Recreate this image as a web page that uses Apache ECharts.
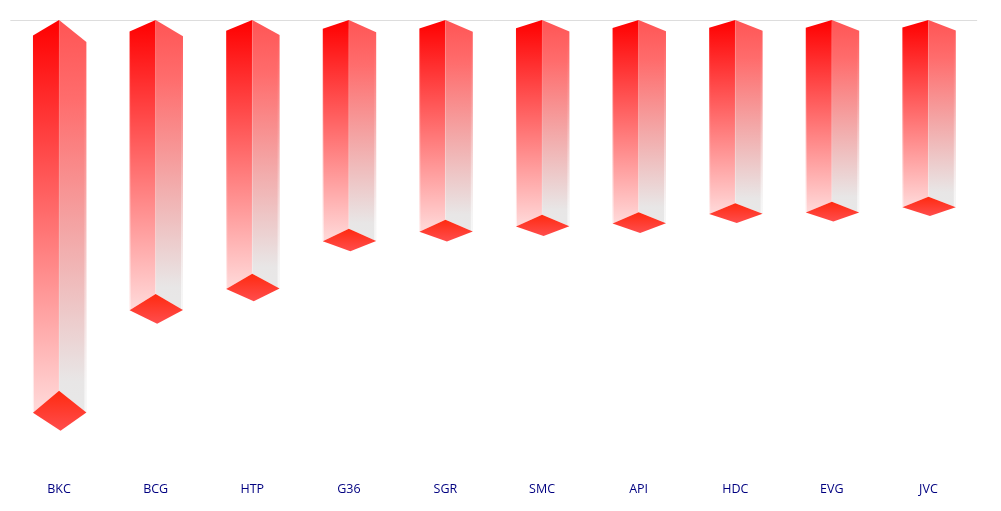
<!DOCTYPE html>
<html><head><meta charset="utf-8">
<style>html,body{margin:0;padding:0;background:#fff}#c{width:1001px;height:511px}</style>
<script src="https://cdn.jsdelivr.net/npm/echarts@6/dist/echarts.min.js"></script>
</head><body><div id="c"></div>
<script>
const categories = ['BKC','BCG','HTP','G36','SGR','SMC','API','HDC','EVG','JVC'];
const values = [82.4,60.9,56.4,46.4,44.4,43.3,42.7,40.7,40.4,39.3];

const chart = echarts.init(document.getElementById('c'), null, {renderer:'canvas'});
const grad = stops => ({type:'linear',x:0,y:0,x2:0,y2:1,colorStops:stops.map(s=>({offset:s[0],color:s[1]}))});
const leftFill = grad([[0,'#ff0000'],[1,'#ffdada']]);
const rightFill = grad([[0,'#ff5555'],[0.2,'#ff6c6c'],[0.55,'#f3a8a8'],[0.92,'#e8e6e6'],[1,'#e8e8e8']]);
const capFill = grad([[0,'#ff2a10'],[1,'#ff4d4d']]);
const edgeFill = grad([[0,'rgba(255,255,255,0)'],[0.4,'rgba(255,255,255,0.15)'],[1,'rgba(255,255,255,0.65)']]);
const seamFill = grad([[0,'rgba(255,255,255,0.05)'],[1,'rgba(255,255,255,0.18)']]);

function renderColumn(params, api){
  const idx = api.value(0);
  const top = api.coord([idx,0]);
  const end = api.coord([idx,api.value(1)]);
  const band = api.size([1,0])[0];
  const h = end[1]-top[1];
  const cx = top[0], wl = band*0.27, wr = band*0.283;
  const d = h*0.108;
  const lx = cx-wl, rx = cx+wr;
  const lt = top[1]+h*0.042, rt = top[1]+h*0.059;
  const poly = (pts,fill)=>({type:'polygon',shape:{points:pts},style:{fill}});
  return {type:'group',children:[
    poly([[cx,top[1]],[lx,lt],[lx,end[1]+d*0.55],[cx,end[1]]],leftFill),
    poly([[cx,top[1]],[rx,rt],[rx,end[1]+d*0.54],[cx,end[1]]],rightFill),
    poly([[rx-2,rt],[rx,rt+1],[rx,end[1]+d*0.54],[rx-2,end[1]+d*0.5]],edgeFill),
    poly([[lx,lt],[lx+1,lt],[lx+1,end[1]+d*0.53],[lx,end[1]+d*0.55]],edgeFill),
    poly([[cx-0.5,top[1]+2],[cx+0.5,top[1]+2],[cx+0.5,end[1]],[cx-0.5,end[1]]],seamFill),
    poly([[cx,end[1]],[rx,end[1]+d*0.54],[cx+1.5,end[1]+d],[lx,end[1]+d*0.55]],capFill)
  ]};
}

chart.setOption({
  animation:false,
  backgroundColor:'#ffffff',
  grid:{left:10.75,right:24.25,top:20,bottom:41,containLabel:false},
  xAxis:[
    {type:'category',data:categories,position:'bottom',
     axisLine:{show:false},axisTick:{show:false},splitLine:{show:false},
     axisLabel:{color:'#000080',fontFamily:'"Open Sans"',fontSize:12.5,margin:13}},
    {type:'category',data:categories,position:'top',
     axisLine:{show:true,lineStyle:{color:'#dddddd',width:1}},axisTick:{show:false},axisLabel:{show:false}}
  ],
  yAxis:{type:'value',inverse:true,min:0,max:100,show:false},
  series:[{type:'custom',clip:false,renderItem:renderColumn,
    encode:{x:0,y:1},
    data:categories.map((c,i)=>[i,values[i]])}]
});
</script></body></html>
